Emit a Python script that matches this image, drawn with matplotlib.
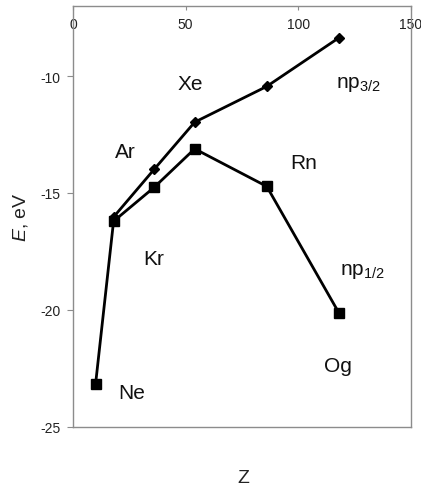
import matplotlib
matplotlib.use("Agg")
import matplotlib.pyplot as plt

plt.rcParams['font.family'] = ['Liberation Sans', 'DejaVu Sans']
plt.rcParams['mathtext.fontset'] = 'custom'
plt.rcParams['mathtext.rm'] = 'Liberation Sans'
plt.rcParams['mathtext.it'] = 'Liberation Sans:italic'
plt.rcParams['axes.unicode_minus'] = False

# Noble-gas valence np spinor energies (eV) versus atomic number Z
z_p32 = [18, 36, 54, 86, 118]
e_p32 = [-16.03, -13.99, -11.97, -10.44, -8.36]

z_p12 = [10, 18, 36, 54, 86, 118]
e_p12 = [-23.19, -16.21, -14.76, -13.11, -14.72, -20.13]

# Text labels: (text, Z, E at baseline)
labels = [
    ("Ne", 26.0, -23.76),
    ("Ar", 23.1, -13.46),
    ("Kr", 36.0, -18.06),
    ("Xe", 51.9, -10.57),
    ("Rn", 102.4, -13.93),
    ("Og", 117.4, -22.62),
    (r"np$_{\mathrm{3/2}}$", 126.7, -10.46),
    (r"np$_{\mathrm{1/2}}$", 128.6, -18.45),
]

x_ticks = [0, 50, 100, 150]
y_ticks = [-25, -20, -15, -10]

fig = plt.figure(figsize=(4.21, 4.89), dpi=100)
ax = fig.add_axes([73 / 421, 1 - 427.7 / 489, 338 / 421, 420.7 / 489])

ax.plot(z_p32, e_p32, color='black', lw=2, marker='D', ms=5, zorder=3)
ax.plot(z_p12, e_p12, color='black', lw=2, marker='s', ms=7.5, zorder=3)

for text, zx, ey in labels:
    ax.text(zx, ey, text, fontsize=15, ha='center', va='baseline', color='#111111')

ax.set_xlim(0, 150)
ax.set_ylim(-25, -7)
ax.set_xticks(x_ticks)
ax.set_yticks(y_ticks)

for sp in ax.spines.values():
    sp.set_color('#8c8c8c')
    sp.set_linewidth(1.0)

ax.tick_params(axis='x', top=True, bottom=False, labeltop=True, labelbottom=False,
               direction='in', length=3, width=0.8, color='#8c8c8c', pad=-18,
               labelsize=10, labelcolor='#222222')
ax.tick_params(axis='y', direction='out', length=4, width=0.8, color='#8c8c8c',
               pad=5, labelsize=10, labelcolor='#222222')

ax.xaxis.set_label_position('bottom')
ax.set_xlabel('Z', fontsize=14, color='#222222')
ax.xaxis.label.set_verticalalignment('center')
ax.xaxis.set_label_coords(0.503, -0.1196)
ax.set_ylabel(r'$E$, eV', fontsize=14, color='#222222')
ax.yaxis.label.set_verticalalignment('center')
ax.yaxis.set_label_coords(-0.154, 0.50)

fig.savefig('out.png', dpi=100)
